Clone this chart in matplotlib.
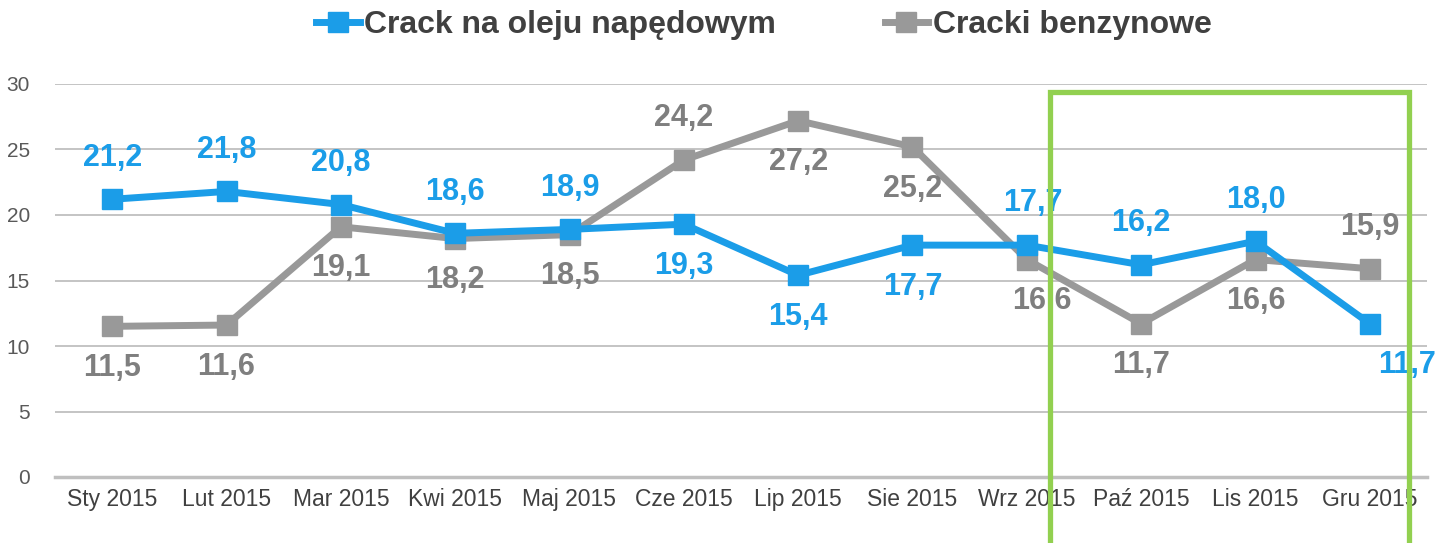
import matplotlib
matplotlib.use("Agg")
import matplotlib.pyplot as plt
from matplotlib.patches import Rectangle

plt.rcParams['font.family'] = ['Liberation Sans', 'DejaVu Sans']

categories = ["Sty 2015", "Lut 2015", "Mar 2015", "Kwi 2015", "Maj 2015", "Cze 2015",
              "Lip 2015", "Sie 2015", "Wrz 2015", "Paź 2015", "Lis 2015", "Gru 2015"]
diesel = [21.2, 21.8, 20.8, 18.6, 18.9, 19.3, 15.4, 17.7, 17.7, 16.2, 18.0, 11.7]
gasoline = [11.5, 11.6, 19.1, 18.2, 18.5, 24.2, 27.2, 25.2, 16.6, 11.7, 16.6, 15.9]
series_names = ["Crack na oleju napędowym", "Cracki benzynowe"]
y_ticks = [0, 5, 10, 15, 20, 25, 30]

# label placement: +1 above, -1 below; x offsets in points
diesel_pos = [1, 1, 1, 1, 1, -1, -1, -1, 1, 1, 1, -1]
diesel_dx = [0, 0, 0, 0, 0, 0, 0, 0, 4, 0, 0, 27]
gas_pos = [-1, -1, -1, -1, -1, 1, -1, -1, -1, -1, -1, 1]
gas_dx = [0, 0, 0, 0, 0, 0, 0, 0, 11, 0, 0, 0]

BLUE = "#1B9DE8"
GRAY = "#999999"
GRAY_TXT = "#7F7F7F"
GREEN = "#92D050"

fig = plt.figure(figsize=(14.39, 5.43), dpi=100)
ax = fig.add_axes([55/1439, 1-477/543, (1427-55)/1439, (477-84)/543])

x = list(range(len(categories)))
ax.plot(x, gasoline, color=GRAY, lw=5, marker='s', ms=14, zorder=3, label=series_names[1],
        solid_joinstyle='miter')
ax.plot(x, diesel, color=BLUE, lw=5, marker='s', ms=14, zorder=4, label=series_names[0],
        solid_joinstyle='miter')

def fmt(v):
    return f"{v:.1f}".replace('.', ',')

for i in x:
    ax.annotate(fmt(diesel[i]), (i, diesel[i]), xytext=(diesel_dx[i], 30*diesel_pos[i]),
                textcoords='offset points', ha='center', va='center',
                fontsize=22, fontweight='bold', color=BLUE, zorder=6)
    ax.annotate(fmt(gasoline[i]), (i, gasoline[i]), xytext=(gas_dx[i], 30*gas_pos[i]),
                textcoords='offset points', ha='center', va='center',
                fontsize=22, fontweight='bold', color=GRAY_TXT, zorder=6)

ax.set_xlim(-0.5, len(categories)-0.5)
ax.set_ylim(0, 30)
ax.set_yticks(y_ticks)
ax.set_xticks(x)
ax.set_xticklabels(categories, fontsize=16.5, color="#404040")
ax.tick_params(axis='y', labelsize=15, labelcolor="#595959", length=0, pad=18)
ax.tick_params(axis='x', length=0, pad=8)
ax.grid(axis='y', color="#BFBFBF", lw=1.3, zorder=0)
ax.set_axisbelow(True)
for s in ['top', 'right', 'left']:
    ax.spines[s].set_visible(False)
ax.spines['bottom'].set_color("#BFBFBF")
ax.spines['bottom'].set_linewidth(2.5)

handles, labels = ax.get_legend_handles_labels()
leg = fig.legend(handles[::-1], labels[::-1], loc='center', bbox_to_anchor=(764/1439, 1-25/543),
                 ncol=2, frameon=False, handlelength=1.35, handletextpad=0.15, columnspacing=3.4,
                 prop={'size': 23, 'weight': 'bold'})
for t in leg.get_texts():
    t.set_color("#404040")

rect = Rectangle((1050/1439, -0.1), (1409-1050)/1439, (1-92/543)+0.1, transform=fig.transFigure,
                 fill=False, edgecolor=GREEN, lw=3.8, zorder=10, clip_on=False)
fig.patches.append(rect)

fig.savefig("out.png", dpi=100)
